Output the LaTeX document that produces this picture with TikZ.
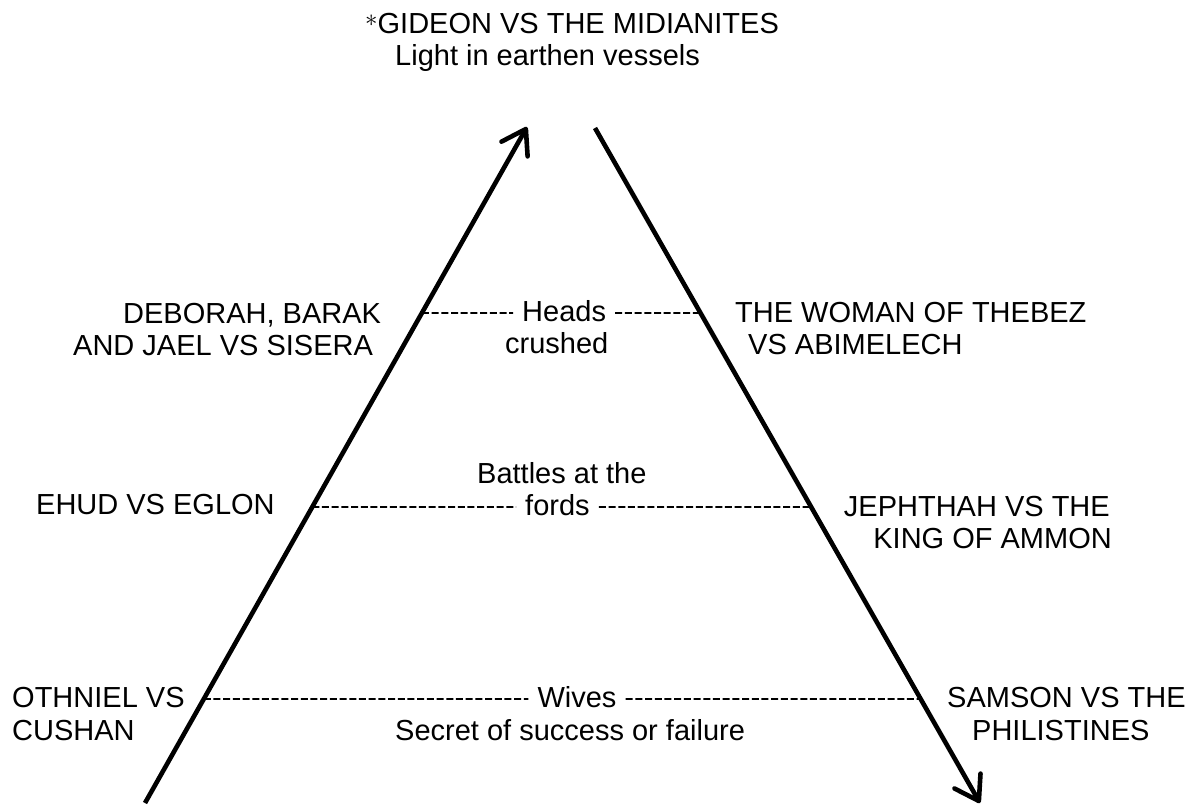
\documentclass[tikz,border=0pt]{standalone}
\usepackage{fontspec}
\setmainfont{Liberation Sans}
\usetikzlibrary{arrows.meta,calc}
\begin{document}
\begin{tikzpicture}[x=1pt,y=-1pt,
  lbl/.style={inner sep=0pt,font=\fontsize{29}{33}\selectfont},
  bigarrow/.style={line width=4.6pt,-{Straight Barb[length=23pt,width=30pt,round]}},
  dashline/.style={line width=1.6pt,dash pattern=on 7pt off 2.7pt}]
\useasboundingbox (0,0) rectangle (1195,806);

% arrows
\coordinate (L0) at (145,803);
\coordinate (L1) at (527,127);
\coordinate (R0) at (595,128);
\coordinate (R1) at (980,803);
\draw[bigarrow] (L0) -- (L1);
\draw[bigarrow] (R0) -- (R1);

% points on arrows
\coordinate (LH) at ($(L0)!0.7249!(L1)$);
\coordinate (LF) at ($(L0)!0.4379!(L1)$);
\coordinate (LW) at ($(L0)!0.1538!(L1)$);
\coordinate (RH) at ($(R0)!0.2741!(R1)$);
\coordinate (RF) at ($(R0)!0.5615!(R1)$);
\coordinate (RW) at ($(R0)!0.8459!(R1)$);

% title
\node[lbl,anchor=base west] (t1) at (365,33) {\raisebox{7pt}{\fontsize{26}{26}\selectfont$\ast$}GIDEON VS THE MIDIANITES};
\node[lbl,anchor=base west] (t2) at (395,65) {Light in earthen vessels};

% top row
\node[lbl,anchor=base west] (deb1) at (123,323) {DEBORAH, BARAK};
\node[lbl,anchor=base west] (deb2) at (73,355) {AND JAEL VS SISERA};
\node[lbl,anchor=base west] (heads) at (522,321) {Heads};
\node[lbl,anchor=base west] (crushed) at (505,353) {crushed};
\node[lbl,anchor=base west] (theb1) at (735,322) {THE WOMAN OF THEBEZ};
\node[lbl,anchor=base west] (theb2) at (748,354) {VS ABIMELECH};

% middle row
\node[lbl,anchor=base west] (ehud) at (36,514) {EHUD VS EGLON};
\node[lbl,anchor=base west] (battles) at (477,483) {Battles at the};
\node[lbl,anchor=base west] (fords) at (525,515) {fords};
\node[lbl,anchor=base east] (jeph1) at (1110,516) {JEPHTHAH VS THE};
\node[lbl,anchor=base east] (jeph2) at (1112,548) {KING OF AMMON};

% bottom row
\node[lbl,anchor=base west] (oth1) at (12,707) {OTHNIEL VS};
\node[lbl,anchor=base west] (oth2) at (12,740) {CUSHAN};
\node[lbl,anchor=base] (wives) at (577,707) {Wives};
\node[lbl,anchor=base west] (secret) at (395,740) {Secret of success or failure};
\node[lbl,anchor=base west] (sam1) at (947,707) {SAMSON VS THE};
\node[lbl,anchor=base west] (sam2) at (972,740) {PHILISTINES};

% dashed connectors
\draw[dashline] (LH) -- ([xshift=-9pt,yshift=8pt]heads.base west);
\draw[dashline] ([xshift=9pt,yshift=8pt]heads.base east) -- (RH);
\draw[dashline] (LF) -- ([xshift=-9pt,yshift=8pt]fords.base west);
\draw[dashline] ([xshift=9pt,yshift=8pt]fords.base east) -- (RF);
\draw[dashline] (LW) -- ([xshift=-9pt,yshift=8pt]wives.base west);
\draw[dashline] ([xshift=9pt,yshift=8pt]wives.base east) -- (RW);
\end{tikzpicture}
\end{document}
